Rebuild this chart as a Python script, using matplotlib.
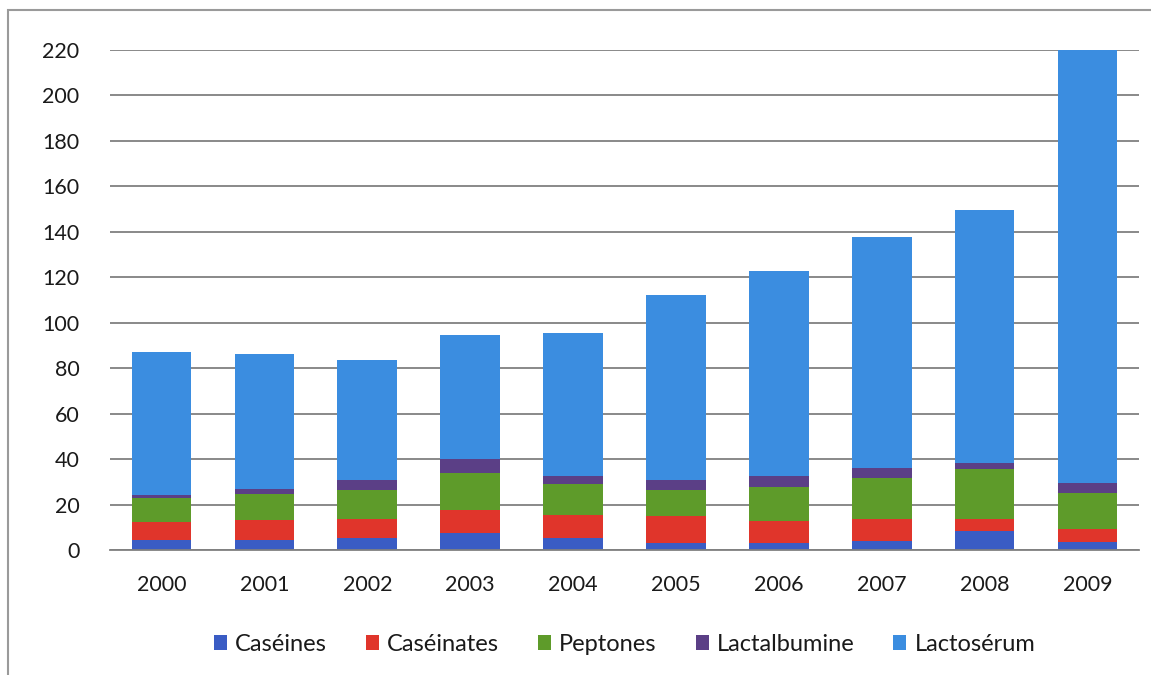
import numpy as np
import matplotlib.pyplot as plt
from matplotlib.patches import Rectangle

plt.rcParams['font.family'] = ['Lato', 'DejaVu Sans']

years = ['2000', '2001', '2002', '2003', '2004', '2005', '2006', '2007', '2008', '2009']
caseines = [4.3, 4.3, 5.1, 7.5, 5.4, 3.0, 3.0, 4.0, 8.5, 3.5]
caseinates = [8.0, 8.9, 8.4, 10.0, 10.2, 11.8, 9.6, 9.8, 5.0, 5.9]
peptones = [10.8, 11.3, 13.0, 16.5, 13.4, 11.8, 15.1, 17.7, 22.0, 15.9]
lactalbumine = [1.0, 2.3, 4.2, 6.0, 3.4, 4.1, 4.7, 4.5, 2.9, 4.1]
totals = [87.0, 86.3, 83.8, 94.8, 95.5, 112.3, 122.6, 137.6, 149.8, 220.0]
lactoserum = [t - a - b - c - d for t, a, b, c, d in
              zip(totals, caseines, caseinates, peptones, lactalbumine)]

series = [
    ('Caséines', caseines, '#3a5cc4'),
    ('Caséinates', caseinates, '#e0352b'),
    ('Peptones', peptones, '#5e9b2a'),
    ('Lactalbumine', lactalbumine, '#5b3f86'),
    ('Lactosérum', lactoserum, '#3b8de0'),
]

fig = plt.figure(figsize=(11.51, 6.75), dpi=100)
ax = fig.add_axes([110 / 1151, 125 / 675, 1029 / 1151, 500 / 675])

# frame around the whole chart
fig.patches.append(Rectangle((8 / 1151, -0.1), 1.2, (665 / 675) + 0.1,
                             transform=fig.transFigure, fill=False,
                             edgecolor='#9a9a9a', linewidth=1.5))

x = np.arange(len(years))
bottom = np.zeros(len(years))
for name, vals, col in series:
    ax.bar(x, vals, 0.58, bottom=bottom, color=col, label=name, zorder=2)
    bottom += np.array(vals)

ax.set_xlim(-0.5, 9.5)
ax.set_ylim(0, 220)
ax.set_yticks(range(0, 221, 20))
ax.yaxis.grid(True, color='#808080', linewidth=1.3, zorder=1)
ax.set_axisbelow(True)
for s in ['top', 'right', 'left']:
    ax.spines[s].set_visible(False)
ax.spines['bottom'].set_color('#808080')
ax.spines['bottom'].set_linewidth(1.3)
ax.tick_params(axis='both', length=0, labelsize=15.5, colors='#1a1a1a')
ax.tick_params(axis='y', pad=22)
ax.tick_params(axis='x', pad=18)
ax.set_xticks(x)
ax.set_xticklabels(years)

ax.legend(loc='upper center', bbox_to_anchor=(0.5, -0.125), ncol=5,
          frameon=False, prop={'size': 17}, handlelength=0.55, handleheight=0.55,
          handletextpad=0.35, columnspacing=1.65, labelcolor='#1a1a1a')

fig.savefig('out.png', dpi=100)
